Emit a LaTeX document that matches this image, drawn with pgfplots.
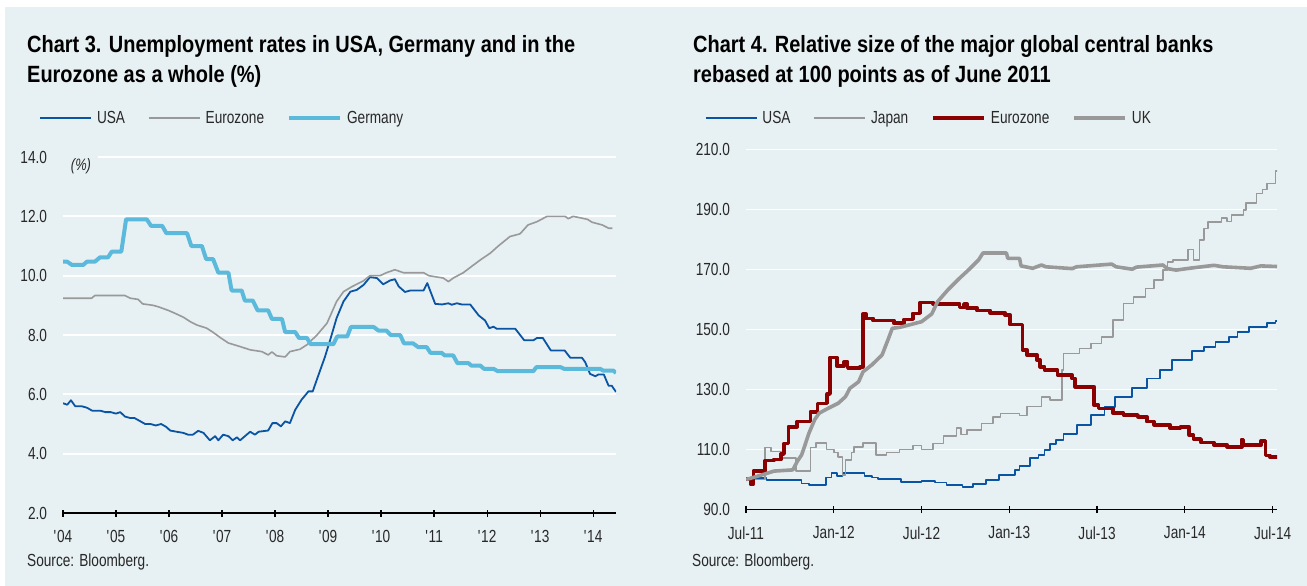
\documentclass[border=0pt]{standalone}
\usepackage{fontspec}
\setmainfont{Liberation Sans}[FakeStretch=0.78]
\newfontfamily\titlefont{Liberation Sans}[FakeStretch=0.85]
\usepackage{pgfplots}
\pgfplotsset{compat=1.18}
\definecolor{bgc}{RGB}{231,240,242}
\definecolor{usab}{RGB}{10,85,163}
\definecolor{gry}{RGB}{153,153,153}
\definecolor{ger}{RGB}{91,186,219}
\definecolor{ezr}{RGB}{139,0,0}
\definecolor{txt}{RGB}{40,40,40}
\newcommand{\q}{\textquotesingle}
\pgfplotsset{
 mystyle/.style={
  scale only axis,
  axis x line*=bottom, axis y line*=left,
  y axis line style={draw=none},
  x axis line style={black, line width=1.6pt},
  ytick style={draw=none},
  xtick style={black, line width=1.2pt},
  major tick length=7pt, tick align=center,
  ymajorgrids, grid style={white, line width=1.8pt},
  tick label style={font=\fontsize{17.5}{20}\selectfont, text=txt},
  /pgf/number format/assume math mode=true,
  y tick label style={xshift=-9pt, /pgf/number format/.cd, fixed, fixed zerofill, precision=1, /tikz/.cd},
  x tick label style={yshift=-10pt},
  legend columns=-1,
  legend style={draw=none, fill=none, anchor=west, font=\fontsize{17.5}{20}\selectfont, text=txt, inner sep=0pt, nodes={inner sep=0pt},
    /tikz/every odd column/.append style={column sep=5pt},
    /tikz/every even column/.append style={column sep=23pt}},
  legend image code/.code={\draw[##1] (0pt,0pt) -- (51pt,0pt);},
  every axis plot/.append style={line join=round},
 }
}
\begin{document}
\begin{tikzpicture}
\path (0pt,0pt) rectangle (1307pt,-586pt);
\fill[bgc] (5pt,-7pt) rectangle (1307pt,-586pt);
% ---------------- left chart
\begin{axis}[mystyle,
  at={(63pt,-513pt)}, anchor=south west,
  width=553pt, height=356pt,
  xmin=2004, xmax=2014.43, ymin=2, ymax=14,
  ytick={2,4,...,14},
  xtick={2004,...,2014},
  xticklabels={\q04,\q05,\q06,\q07,\q08,\q09,\q10,\q11,\q12,\q13,\q14},
  legend style={at={(-0.0434,1.11)}},
]
\addplot[usab, line width=1.8pt] coordinates {
(2004.0,5.7)(2004.08,5.65)(2004.15,5.8)(2004.23,5.6)(2004.35,5.6)(2004.45,5.55)(2004.55,5.45)(2004.7,5.45)(2004.8,5.4)(2004.9,5.4)
(2005.0,5.35)(2005.08,5.4)(2005.17,5.25)(2005.27,5.2)(2005.35,5.2)(2005.45,5.1)(2005.55,5.0)(2005.65,5.0)(2005.75,4.95)(2005.85,5.0)(2005.95,4.9)
(2006.02,4.78)(2006.14,4.74)(2006.27,4.7)(2006.36,4.64)(2006.45,4.64)(2006.55,4.77)(2006.65,4.7)(2006.77,4.45)(2006.87,4.59)(2006.93,4.45)
(2007.02,4.64)(2007.12,4.59)(2007.2,4.45)(2007.28,4.55)(2007.34,4.45)(2007.53,4.74)(2007.62,4.64)(2007.69,4.74)(2007.87,4.78)(2007.95,5.03)
(2008.03,5.03)(2008.11,4.92)(2008.19,5.09)(2008.28,5.03)(2008.38,5.48)(2008.5,5.82)(2008.63,6.1)(2008.71,6.1)(2008.82,6.66)(2008.94,7.26)
(2009.04,7.84)(2009.16,8.57)(2009.29,9.13)(2009.42,9.46)(2009.54,9.52)(2009.67,9.69)(2009.79,9.95)(2009.92,9.92)
(2010.04,9.71)(2010.17,9.84)(2010.26,9.88)(2010.33,9.64)(2010.45,9.45)(2010.55,9.5)(2010.8,9.5)(2010.87,9.75)
(2011.02,9.05)(2011.15,9.03)(2011.27,9.07)(2011.33,9.02)(2011.43,9.07)(2011.52,9.03)(2011.68,9.03)(2011.84,8.66)(2011.96,8.49)
(2012.04,8.23)(2012.12,8.28)(2012.18,8.21)(2012.53,8.21)(2012.7,7.82)(2012.87,7.82)(2012.94,7.9)(2013.05,7.9)
(2013.2,7.48)(2013.46,7.48)(2013.57,7.23)(2013.79,7.23)(2013.85,7.08)(2013.94,6.69)(2014.04,6.61)(2014.1,6.67)(2014.2,6.67)
(2014.29,6.29)(2014.35,6.29)(2014.43,6.08)};
\addlegendentry{USA}
\addplot[gry, line width=1.6pt] coordinates {
(2004.0,9.24)(2004.54,9.24)(2004.6,9.33)(2005.17,9.33)(2005.27,9.24)(2005.42,9.2)(2005.5,9.05)(2005.7,9.0)(2005.8,8.95)
(2006.0,8.82)(2006.15,8.7)(2006.27,8.6)(2006.4,8.45)(2006.52,8.34)(2006.71,8.23)(2006.84,8.08)(2006.96,7.92)
(2007.12,7.73)(2007.34,7.61)(2007.53,7.5)(2007.75,7.44)(2007.87,7.33)(2007.94,7.43)(2008.03,7.3)(2008.19,7.26)(2008.28,7.44)
(2008.47,7.52)(2008.6,7.67)(2008.79,8.0)(2008.98,8.4)(2009.16,9.13)(2009.29,9.46)(2009.45,9.63)(2009.67,9.83)(2009.79,10.0)(2009.98,10.0)
(2010.1,10.1)(2010.26,10.2)(2010.42,10.1)(2010.8,10.1)(2010.9,10.0)(2011.17,9.92)(2011.27,9.8)(2011.36,9.92)(2011.55,10.1)
(2011.72,10.33)(2011.87,10.53)(2012.06,10.76)(2012.21,11.0)(2012.43,11.32)(2012.62,11.41)(2012.77,11.71)(2012.94,11.82)
(2013.13,12.0)(2013.47,12.0)(2013.53,11.92)(2013.62,12.0)(2013.89,11.9)(2013.98,11.8)(2014.17,11.71)(2014.29,11.6)(2014.36,11.6)};
\addlegendentry{Eurozone}
\addplot[ger, line width=4pt] coordinates {
(2004.0,10.47)(2004.08,10.47)(2004.17,10.36)(2004.38,10.36)(2004.45,10.47)(2004.6,10.47)(2004.7,10.62)(2004.85,10.62)
(2004.92,10.81)(2005.1,10.81)(2005.19,11.9)(2005.58,11.9)(2005.66,11.68)(2005.87,11.68)(2005.95,11.43)(2006.34,11.43)
(2006.42,11.0)(2006.62,11.0)(2006.7,10.56)(2006.83,10.56)(2006.93,10.1)(2007.12,10.1)(2007.18,9.5)(2007.37,9.5)
(2007.43,9.16)(2007.58,9.16)(2007.67,8.83)(2007.87,8.83)(2007.94,8.54)(2008.13,8.54)(2008.19,8.1)(2008.38,8.1)
(2008.45,7.9)(2008.6,7.9)(2008.67,7.69)(2009.1,7.69)(2009.17,7.95)(2009.36,7.95)(2009.43,8.27)(2009.86,8.27)
(2009.95,8.15)(2010.1,8.15)(2010.18,8.0)(2010.36,8.0)(2010.43,7.72)(2010.6,7.72)(2010.7,7.59)(2010.86,7.59)
(2010.93,7.4)(2011.14,7.4)(2011.2,7.31)(2011.36,7.31)(2011.44,7.05)(2011.65,7.05)(2011.7,6.97)(2011.87,6.97)
(2011.94,6.86)(2012.12,6.86)(2012.2,6.78)(2012.87,6.78)(2012.93,6.92)(2013.38,6.92)(2013.45,6.86)(2014.13,6.86)
(2014.19,6.8)(2014.38,6.8)(2014.43,6.72)};
\addlegendentry{Germany}
\end{axis}
\fill[bgc] (62pt,-151pt) rectangle (98pt,-181pt);
\node[inner sep=0pt, text=txt, font=\fontsize{16.5}{19}\selectfont\itshape] at (81pt,-166.5pt) {(\%)};
% ---------------- right chart
\begin{axis}[mystyle,
  at={(746pt,-509.5pt)}, anchor=south west,
  width=531pt, height=360pt,
  xmin=0, xmax=36.3, ymin=90, ymax=210,
  ytick={90,110,...,210},
  xtick={0,6,...,36},
  xticklabels={Jul-11,Jan-12,Jul-12,Jan-13,Jul-13,Jan-14,Jul-14},
  legend style={at={(-0.0782,1.088)}},
]
\addplot[usab, line width=1.8pt, const plot] coordinates {
(0,100.4)(1.4,99.9)(3.8,98.7)(4.3,98.2)(5.45,100.7)(5.85,102.1)(6.2,101.2)(6.6,102.1)(8.1,101.3)(8.6,100.7)(9.0,100.1)
(10.6,99.3)(12.0,99.6)(12.9,99.0)(13.7,98.2)(14.8,97.6)(15.5,98.5)(16.4,99.8)(17.3,101.5)(18.4,103.2)(18.7,104.5)
(19.4,107.1)(20.0,108.2)(20.4,109.8)(20.8,111.8)(21.2,113.2)(21.7,115.3)(22.6,118.2)(23.6,121.5)(24.5,124.3)(25.25,127.4)
(26.4,130.4)(27.4,133.7)(28.3,136.5)(29.1,139.8)(30.5,142.9)(31.3,144.3)(32.1,145.9)(33.0,147.6)(33.6,149.3)(34.4,150.9)
(35.6,152.1)(36.2,152.8)(36.3,152.8)};
\addlegendentry{USA}
\addplot[gry, line width=1.6pt, const plot] coordinates {
(0,100)(1.3,110.7)(1.7,109.3)(2.4,107.1)(3.4,102.8)(4.4,110.7)(4.8,112.1)(5.5,110)(6.0,109)(6.3,107.6)(6.6,101.5)(6.8,106.5)
(7.2,109)(7.4,110.9)(8.0,112.1)(8.9,108.2)(9.6,109)(10.5,110)(11.4,111.3)(12.0,110)(12.8,112)(13.5,114.5)(14.4,117.2)
(14.7,115)(15.1,116.5)(16.1,118.7)(16.9,120.9)(17.4,122)(18.7,121.3)(19.2,124.3)(20.2,127.6)(20.8,126.5)(21.6,136.5)
(21.7,142)(22.8,143.7)(23.6,145.4)(24.3,147.6)(25.1,153.2)(25.8,158.7)(26.5,160.9)(27.3,163.7)(27.9,166.5)(28.5,169.8)
(28.8,172.6)(29.2,173.2)(30.2,176.7)(30.6,173.2)(31.0,179.8)(31.3,183.7)(31.6,185.9)(32.5,187.1)(32.9,186)(33.2,188.2)
(34.0,189.8)(34.2,192.1)(34.9,195.4)(35.3,196.7)(35.6,198.7)(36.2,202.9)(36.3,203.2)};
\addlegendentry{Japan}
\addplot[ezr, line width=3.6pt, const plot] coordinates {
(0,100)(0.3,98.5)(0.5,102.8)(1.3,106.3)(1.9,106.7)(2.4,108.5)(2.6,112)(2.9,117.6)(3.5,119.3)(4.4,122.6)(4.9,125.4)
(5.55,128.5)(5.74,140.7)(6.2,137.8)(6.7,139.2)(6.95,137.1)(7.8,137.6)(8.0,155.2)(8.2,153.7)(8.7,153)(10.1,152.1)
(10.8,153.4)(11.4,155.4)(11.9,159)(12.8,158.6)(14.6,157.3)(14.9,158.5)(15.1,157.1)(15.8,156.3)(16.7,155.6)(17.7,154.8)
(18.05,151.7)(18.9,143.2)(19.2,141.5)(19.9,139.8)(20.1,137.6)(20.4,136.5)(21.3,134.8)(22.3,133.7)(22.5,130.9)(23.8,124.8)
(24.1,123.7)(25.1,122.1)(25.8,121.5)(26.8,120.9)(27.4,119.3)(27.9,118.2)(29.0,117.1)(29.7,117.6)(30.3,114.8)(30.6,113.5)
(31.1,112.3)(32.0,111.5)(32.9,110.9)(33.9,113.4)(34.0,111.5)(35.2,112.9)(35.4,113)(35.5,108)(35.8,107.5)(36.3,106.8)};
\addlegendentry{Eurozone}
\addplot[gry, line width=3.6pt] coordinates {
(0,100)(0.3,100.4)(1.4,102)(1.9,102.8)(3.2,103.2)(3.5,106)(3.8,108.2)(4.0,111)(4.3,115.4)(4.7,120)(5.0,122.1)(5.6,123.7)
(6.3,125.4)(6.8,127.6)(7.1,130.4)(7.7,132.6)(8.0,135.9)(8.6,138.2)(9.3,141.5)(9.7,146.5)(10.0,150.4)(10.5,150.7)(12.0,152.6)
(12.7,155.2)(13.1,159.3)(13.8,163.2)(14.6,167.1)(15.2,169.8)(15.9,173.2)(16.2,175.5)(17.8,175.5)(17.9,173.7)(18.7,173.7)(18.8,171.2)(19.6,170.4)
(20.2,171.5)(20.5,170.9)(22.3,170.3)(22.6,170.9)(25.0,171.8)(25.3,170.9)(26.4,170.1)(26.7,170.8)(28.5,171.5)(28.8,170.3)
(29.4,169.8)(30.3,170.4)(32.0,171.4)(32.6,170.9)(34.5,170.4)(35.2,171.2)(36.3,171)};
\addlegendentry{UK}
\end{axis}
% titles and sources
\node[anchor=base west, inner sep=0pt, font=\titlefont\bfseries\fontsize{23.5}{27}\selectfont] at (27pt,-53pt) {Chart 3. Unemployment rates in USA, Germany and in the};
\node[anchor=base west, inner sep=0pt, font=\titlefont\bfseries\fontsize{23.5}{27}\selectfont] at (27pt,-82pt) {Eurozone as a whole (\%)};
\node[anchor=base west, inner sep=0pt, font=\titlefont\bfseries\fontsize{23.5}{27}\selectfont] at (693pt,-53pt) {Chart 4. Relative size of the major global central banks};
\node[anchor=base west, inner sep=0pt, font=\titlefont\bfseries\fontsize{23.5}{27}\selectfont] at (693pt,-82pt) {rebased at 100 points as of June 2011};
\node[anchor=base west, inner sep=0pt, text=txt, font=\fontsize{17.5}{20}\selectfont] at (27pt,-566pt) {Source: Bloomberg.};
\node[anchor=base west, inner sep=0pt, text=txt, font=\fontsize{17.5}{20}\selectfont] at (692pt,-566pt) {Source: Bloomberg.};
\end{tikzpicture}
\end{document}
